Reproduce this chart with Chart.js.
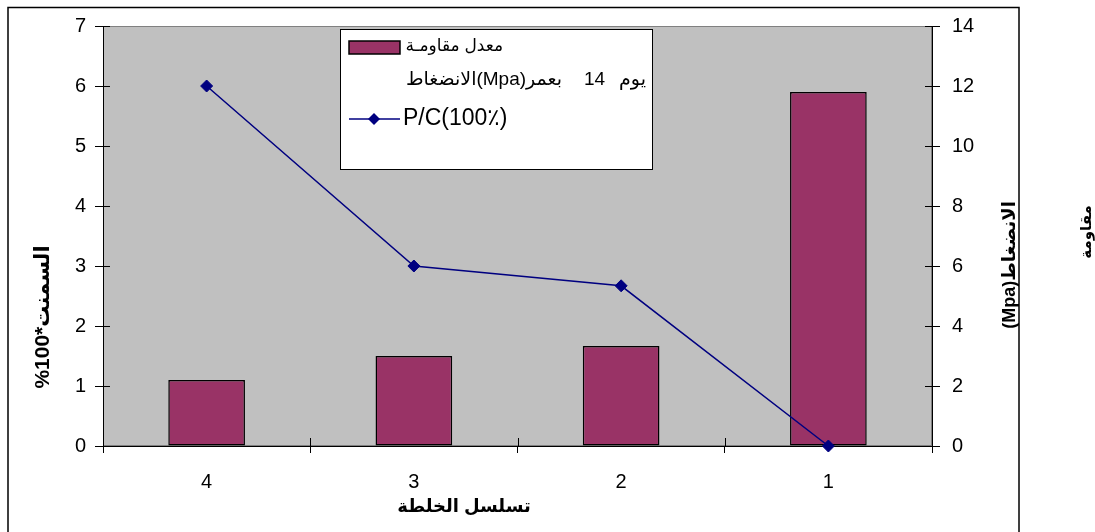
<!DOCTYPE html>
<html>
<head>
<meta charset="utf-8">
<script src="https://cdn.jsdelivr.net/npm/chart.js@4/dist/chart.umd.min.js"></script>
<style>
  html, body { margin: 0; padding: 0; background: #fff; }
  #wrap { width: 1095px; height: 532px; position: relative; }
</style>
</head>
<body>
<div id="wrap"><canvas id="c" width="1095" height="532"></canvas></div>
<script>
// Mix sequence (categories, left to right)
const mixLabels = ['4', '3', '2', '1'];
// Average compressive strength at 14 days, MPa (right axis)
const strengthMpa = [2.2, 3.0, 3.33, 11.8];
// P/C ratio x 100 % (left axis)
const pcRatio = [6, 3, 2.67, 0];

// Axis ranges
const leftAxisMax = 7;
const leftAxisStep = 1;
const rightAxisMax = 14;
const rightAxisStep = 2;

// Texts
const strengthLegendTop = 'معدل مقاومـة';
// second legend line, written as visual pieces from left to right
const strengthLegendBottom = ['الانضغاط', '(Mpa)', 'بعمر', '14', 'يوم'];
const pcLegend = 'P/C(100٪)';
const xTitle = 'تسلسل الخلطة';
const leftTitle = '%100*السمنت';
const rightTitle = '(Mpa)\u200Eالانضغاط';
const rightTitle2 = 'مقاومة';

const FONT = '"Liberation Sans", "DejaVu Sans", Arial, sans-serif';
const BAR_COLOR = '#993366';
const LINE_COLOR = '#000080';
const PLOT_BG = '#C0C0C0';

// Page background, outer frame and plot-area fill
const backdrop = {
  id: 'backdrop',
  beforeDraw(chart) {
    const { ctx, chartArea: a } = chart;
    ctx.save();
    ctx.fillStyle = '#fff';
    ctx.fillRect(0, 0, chart.width, chart.height);
    ctx.strokeStyle = '#000';
    ctx.lineWidth = 1.5;
    ctx.strokeRect(8, 7.5, 1011, 560);
    ctx.fillStyle = PLOT_BG;
    ctx.fillRect(a.left, a.top, a.right - a.left, a.bottom - a.top);
    ctx.strokeStyle = '#808080';
    ctx.lineWidth = 1;
    ctx.strokeRect(a.left + 0.5, a.top + 0.5, a.right - a.left - 1, a.bottom - a.top - 1);
    ctx.restore();
  }
};

// Inner halves of the tick marks (Chart.js draws the outer halves)
const innerTicks = {
  id: 'innerTicks',
  beforeDatasetsDraw(chart) {
    const { ctx, chartArea: a, scales } = chart;
    ctx.save();
    ctx.strokeStyle = '#000';
    ctx.lineWidth = 1;
    ctx.beginPath();
    scales.y.ticks.forEach((t, i) => {
      const y = Math.round(scales.y.getPixelForTick(i)) + 0.5;
      ctx.moveTo(a.left, y); ctx.lineTo(a.left + 7, y);
    });
    scales.y1.ticks.forEach((t, i) => {
      const y = Math.round(scales.y1.getPixelForTick(i)) + 0.5;
      ctx.moveTo(a.right - 7, y); ctx.lineTo(a.right, y);
    });
    const n = scales.x.ticks.length;
    const w = (a.right - a.left) / n;
    for (let i = 0; i <= n; i++) {
      const x = Math.round(a.left + i * w) + 0.5;
      ctx.moveTo(x, a.bottom - 8); ctx.lineTo(x, a.bottom);
    }
    ctx.stroke();
    ctx.restore();
  }
};

// Legend box and axis titles
const annotations = {
  id: 'annotations',
  afterDraw(chart) {
    const { ctx } = chart;
    ctx.save();
    // legend frame
    ctx.fillStyle = '#fff';
    ctx.fillRect(340, 29, 313, 141);
    ctx.strokeStyle = '#000';
    ctx.lineWidth = 1;
    ctx.strokeRect(340.5, 29.5, 312, 140);

    // bar swatch
    ctx.fillStyle = BAR_COLOR;
    ctx.fillRect(349, 41, 51, 13);
    ctx.lineWidth = 1.5;
    ctx.strokeStyle = '#000';
    ctx.strokeRect(349, 41, 51, 13);

    ctx.fillStyle = '#000';
    ctx.textBaseline = 'middle';
    ctx.direction = 'ltr';
    ctx.font = '17px ' + FONT;
    ctx.textAlign = 'right';
    ctx.fillText(strengthLegendTop, 503, 46);

    // second line: pieces placed left to right
    ctx.textAlign = 'left';
    ctx.font = '19px ' + FONT;
    const gaps = [0, 0, 22, 14];
    let x = 406;
    strengthLegendBottom.forEach((piece, i) => {
      ctx.fillText(piece, x, 80);
      x += ctx.measureText(piece).width + (gaps[i] || 0);
    });

    // line sample
    ctx.strokeStyle = LINE_COLOR;
    ctx.lineWidth = 1.5;
    ctx.beginPath();
    ctx.moveTo(349, 119); ctx.lineTo(400, 119);
    ctx.stroke();
    ctx.fillStyle = LINE_COLOR;
    ctx.beginPath();
    ctx.moveTo(374, 113); ctx.lineTo(380, 119); ctx.lineTo(374, 125); ctx.lineTo(368, 119);
    ctx.closePath();
    ctx.fill();
    ctx.fillStyle = '#000';
    ctx.font = '23px ' + FONT;
    ctx.fillText(pcLegend, 403, 119);

    // x-axis title
    ctx.font = 'bold 18px ' + FONT;
    ctx.textAlign = 'center';
    ctx.fillText(xTitle, 464, 507);

    // rotated titles
    const vText = (txt, cx, cy, font) => {
      ctx.save();
      ctx.translate(cx, cy);
      ctx.rotate(-Math.PI / 2);
      ctx.font = font;
      ctx.textAlign = 'center';
      ctx.textBaseline = 'middle';
      ctx.fillText(txt, 0, 0);
      ctx.restore();
    };
    vText(leftTitle, 43, 317, 'bold 21px ' + FONT);
    vText(rightTitle, 1010, 265, 'bold 18px ' + FONT);
    vText(rightTitle2, 1087, 232, 'bold 15px ' + FONT);
    ctx.restore();
  }
};

new Chart(document.getElementById('c'), {
  type: 'bar',
  data: {
    labels: mixLabels,
    datasets: [
      {
        type: 'line',
        label: pcLegend,
        data: pcRatio,
        yAxisID: 'y',
        order: 0,
        borderColor: LINE_COLOR,
        backgroundColor: LINE_COLOR,
        borderWidth: 1.5,
        pointStyle: 'rectRot',
        pointRadius: 6,
        pointBackgroundColor: LINE_COLOR,
        pointBorderColor: LINE_COLOR,
        pointBorderWidth: 1,
        tension: 0,
        clip: false
      },
      {
        type: 'bar',
        label: strengthLegendTop + ' ' + strengthLegendBottom.join(' '),
        data: strengthMpa,
        yAxisID: 'y1',
        order: 1,
        backgroundColor: BAR_COLOR,
        borderColor: '#000',
        borderWidth: 1.5,
        borderSkipped: false,
        categoryPercentage: 1,
        barPercentage: 0.37
      }
    ]
  },
  options: {
    responsive: false,
    animation: false,
    events: [],
    layout: { padding: { top: 26, left: 0, right: 0, bottom: 0 } },
    plugins: {
      legend: { display: false },
      tooltip: { enabled: false },
      title: { display: false }
    },
    scales: {
      x: {
        type: 'category',
        offset: true,
        grid: { display: true, offset: true, drawOnChartArea: false, drawTicks: true, tickLength: 7, color: '#000' },
        border: { display: true, color: '#000', width: 1 },
        ticks: { color: '#000', font: { family: FONT, size: 20 }, padding: 17, maxRotation: 0 },
        afterFit(s) { s.height = 86; }
      },
      y: {
        position: 'left',
        min: 0,
        max: leftAxisMax,
        grid: { display: true, drawOnChartArea: false, drawTicks: true, tickLength: 8, color: '#000' },
        border: { display: true, color: '#000', width: 1 },
        ticks: { stepSize: leftAxisStep, color: '#000', font: { family: FONT, size: 20 }, padding: 9 },
        afterFit(s) { s.width = 103; }
      },
      y1: {
        position: 'right',
        min: 0,
        max: rightAxisMax,
        grid: { display: true, drawOnChartArea: false, drawTicks: true, tickLength: 8, color: '#000' },
        border: { display: true, color: '#000', width: 1 },
        ticks: { stepSize: rightAxisStep, color: '#000', font: { family: FONT, size: 20 }, padding: 12 },
        afterFit(s) { s.width = 163; }
      }
    }
  },
  plugins: [backdrop, innerTicks, annotations]
});
</script>
</body>
</html>
